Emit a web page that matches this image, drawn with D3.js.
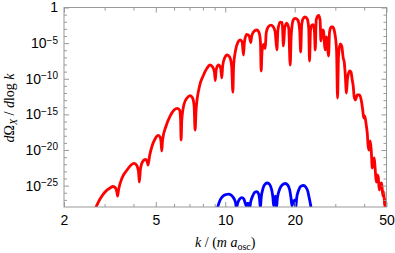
<!DOCTYPE html>
<html>
<head>
<meta charset="utf-8">
<script src="https://cdn.jsdelivr.net/npm/d3@7"></script>
<style>
  html, body { margin: 0; padding: 0; background: #fff; }
  svg { display: block; }
  .tick line { stroke: #999; }
</style>
</head>
<body>
<svg id="chart" width="395" height="253"></svg>
<script>
// red spectrum: k and log10 of dOmega/dlog k
const redK = [2.740, 2.866, 3.012, 3.167, 3.263, 3.346, 3.396, 3.413, 3.447, 3.570, 3.752, 3.905, 4.024, 4.126, 4.209, 4.243,
  4.294, 4.403, 4.505, 4.582, 4.628, 4.698, 4.817, 4.963, 5.115, 5.218, 5.270, 5.307, 5.350, 5.540, 5.766, 6.001, 6.184,
  6.341, 6.404, 6.436, 6.481, 6.632, 6.833, 7.041, 7.219, 7.328, 7.401, 7.475, 7.703, 8.017, 8.344, 8.598, 8.815, 8.975,
  9.057, 9.129, 9.342, 9.550, 9.665, 9.743, 9.939, 10.19, 10.45, 10.66, 10.79, 10.87, 11.09, 11.37, 11.60, 11.84, 11.99,
  12.11, 12.38, 12.70, 12.91, 13.02, 13.35, 13.71, 14.03, 14.21, 14.31, 14.43, 14.65, 14.82, 14.90, 15.05, 15.35, 15.74,
  16.13, 16.46, 16.74, 16.91, 17.30, 17.65, 17.88, 18.10, 18.46, 18.84, 19.12, 19.32, 19.71, 20.10, 20.61, 21.02, 21.23,
  21.44, 21.77, 22.21, 22.66, 23.00, 23.19, 23.42, 23.75, 24.06, 24.37, 24.55, 24.79, 25.17, 25.42, 25.76, 25.99, 26.33,
  26.67, 26.94, 27.13, 27.35, 27.54, 27.82, 28.04, 28.32, 28.80, 29.24, 29.83, 30.37, 30.67, 30.98, 31.51, 31.98, 32.46,
  32.79, 33.12, 33.52, 33.89, 34.64, 35.09, 35.52, 35.87, 36.23, 36.67, 37.33, 38.20, 38.85, 39.44, 39.84, 40.24, 40.85,
  41.26, 41.68, 42.09, 42.52, 42.94, 43.37, 43.81, 44.25, 44.69, 45.14, 45.60, 46.05, 46.51, 46.98, 47.69, 48.17, 48.65,
  49.14, 49.63, 50.0];
const redExp = [-28.14, -26.88, -25.89, -25.33, -25.12, -25.33, -26.03, -26.46, -25.61, -23.93, -22.81, -22.11, -21.89,
  -22.11, -23.09, -24.49, -22.53, -21.54, -21.33, -21.54, -22.11, -20.84, -19.44, -18.46, -17.96, -18.18, -18.88, -20.14,
  -18.60, -16.63, -15.23, -14.39, -14.15, -14.39, -15.79, -18.60, -15.79, -13.54, -12.70, -12.38, -12.70, -13.82, -17.19,
  -14.39, -11.30, -9.61, -8.49, -8.07, -8.35, -9.05, -10.25, -8.77, -8.07, -8.49, -9.89, -8.21, -7.09, -6.67, -6.95, -8.21,
  -11.86, -8.21, -5.96, -4.84, -4.56, -4.84, -6.67, -4.84, -3.79, -4.00, -4.91, -4.00, -3.30, -3.16, -3.58, -4.84, -8.91,
  -6.25, -5.19, -5.40, -5.75, -3.58, -2.74, -2.46, -2.67, -3.44, -5.96, -3.16, -2.04, -2.11, -5.40, -2.88, -2.18, -2.88,
  -8.07, -3.86, -1.75, -1.52, -1.75, -3.16, -6.25, -2.46, -1.54, -1.33, -1.61, -2.88, -7.51, -3.16, -2.46, -2.39, -3.44,
  -5.96, -1.75, -1.19, -1.12, -1.75, -4.70, -3.16, -3.23, -5.26, -5.96, -4.28, -4.14, -5.96, -6.81, -3.44, -2.74, -2.74,
  -3.58, -5.96, -12.70, -6.67, -5.12, -5.40, -7.09, -7.65, -9.33, -12.00, -9.89, -8.91, -9.05, -10.18, -11.02, -12.56,
  -12.98, -12.28, -12.28, -12.98, -14.39, -15.51, -15.23, -16.49, -17.61, -19.58, -20.00, -18.74, -20.00, -22.53, -21.68,
  -21.12, -22.81, -24.49, -23.51, -23.79, -25.61, -24.77, -24.63, -26.46, -25.89, -28.00, -27.02, -28.21];

// blue spectrum
const blueK = [9.249, 9.502, 9.791, 10.09, 10.32, 10.61, 10.87, 11.09, 11.18, 11.32, 11.54, 11.80, 12.05, 12.24, 12.35,
  12.47, 12.61, 12.76, 12.89, 13.15, 13.41, 13.71, 13.96, 14.10, 14.20, 14.31, 14.60, 14.90, 15.24, 15.58, 15.90, 16.10,
  16.21, 16.33, 16.51, 16.66, 16.83, 17.22, 17.65, 18.19, 18.65, 19.03, 19.28, 19.46, 19.61, 19.81, 20.00, 20.20, 20.40,
  20.82, 21.34, 21.84, 22.32, 22.77, 23.12, 23.40, 23.58];
const blueExp = [-28.14, -27.02, -26.46, -26.25, -26.18, -26.32, -26.74, -27.44, -28.14, -27.44, -26.88, -26.69, -26.88,
  -27.58, -27.86, -27.51, -27.51, -28.14, -27.30, -26.46, -25.96, -25.85, -26.18, -27.02, -28.14, -26.74, -25.33, -24.77,
  -24.63, -24.84, -25.61, -26.74, -27.86, -27.02, -26.46, -28.14, -26.74, -25.47, -24.91, -24.70, -24.91, -25.61, -26.74,
  -27.86, -27.16, -27.44, -27.02, -28.14, -26.74, -25.61, -25.05, -24.98, -25.19, -25.75, -26.74, -27.58, -28.26];

const xMajor = [2, 5, 10, 20, 50];
const xMinor = [3, 4, 6, 7, 8, 9, 30, 40];
const yMajorExp = [0, -5, -10, -15, -20, -25];
const yMinorExp = [-1, -2, -3, -4, -6, -7, -8, -9, -11, -12, -13, -14, -16, -17, -18, -19, -21, -22, -23, -24, -26, -27];

const pL = 64, pR = 386.5, pT = 7.5, pB = 207;
const svg = d3.select("#chart");

const x = d3.scaleLog().domain([2, 50]).range([pL, pR]);
const y = d3.scaleLog().domain([1e-28, 1]).range([pB, pT]);

const toPts = (ks, es) => ks.map((k, i) => [k, Math.pow(10, es[i])]);

svg.append("defs").append("clipPath").attr("id", "plotclip")
  .append("rect")
  .attr("x", pL).attr("y", pT)
  .attr("width", pR - pL).attr("height", pB - pT);

const line = d3.line()
  .x(d => x(d[0]))
  .y(d => y(d[1]))
  .curve(d3.curveMonotoneX);

const plot = svg.append("g").attr("clip-path", "url(#plotclip)");
plot.append("path")
  .datum(toPts(redK, redExp))
  .attr("fill", "none")
  .attr("stroke", "#ff0000")
  .attr("stroke-width", 2.8)
  .attr("stroke-linejoin", "round")
  .attr("d", line);
plot.append("path")
  .datum(toPts(blueK, blueExp))
  .attr("fill", "none")
  .attr("stroke", "#0000ff")
  .attr("stroke-width", 2.8)
  .attr("stroke-linejoin", "round")
  .attr("d", line);

// frame
svg.append("rect")
  .attr("x", pL).attr("y", pT)
  .attr("width", pR - pL).attr("height", pB - pT)
  .attr("fill", "none").attr("stroke", "#999").attr("stroke-width", 1);

const font = "'Liberation Sans', Arial, sans-serif";
const yMajor = yMajorExp.map(e => Math.pow(10, e));
const yMinor = yMinorExp.map(e => Math.pow(10, e));

function ticks(axis, vals, size, pos, labelled) {
  const g = svg.append("g").attr("transform", pos)
    .call(axis.tickValues(vals).tickSize(-size).tickPadding(6)
      .tickFormat(labelled ? (d => d) : () => ""));
  g.select(".domain").remove();
  g.selectAll("text").attr("font-family", font).attr("font-size", 14).attr("fill", "#000");
  return g;
}

// bottom
const bx = ticks(d3.axisBottom(x), xMajor, 5, `translate(0,${pB})`, true);
bx.selectAll("text").attr("dy", "0.85em");
ticks(d3.axisBottom(x), xMinor, 3, `translate(0,${pB})`, false);
// top
ticks(d3.axisTop(x), xMajor, 5, `translate(0,${pT})`, false);
ticks(d3.axisTop(x), xMinor, 3, `translate(0,${pT})`, false);
// left
const ly = ticks(d3.axisLeft(y), yMajor, 5, `translate(${pL},0)`, true);
ly.selectAll(".tick text").each(function (d) {
  const e = Math.round(Math.log10(d));
  const t = d3.select(this).text(null);
  if (e === 0) { t.text("1"); return; }
  t.append("tspan").text("10");
  t.append("tspan").attr("dy", "-0.45em").attr("font-size", 10).text("\u2212" + (-e));
});
ticks(d3.axisLeft(y), yMinor, 3, `translate(${pL},0)`, false);
// right
ticks(d3.axisRight(y), yMajor, 5, `translate(${pR},0)`, false);
ticks(d3.axisRight(y), yMinor, 3, `translate(${pR},0)`, false);

// axis labels
const serif = "'Liberation Serif', 'Times New Roman', serif";
const xl = svg.append("text")
  .attr("x", (pL + pR) / 2).attr("y", 247)
  .attr("text-anchor", "middle")
  .attr("font-family", serif).attr("font-size", 14);
xl.append("tspan").attr("font-style", "italic").text("k");
xl.append("tspan").text(" / (");
xl.append("tspan").attr("font-style", "italic").text("m a");
xl.append("tspan").attr("font-size", 10).attr("dy", 3).text("osc");
xl.append("tspan").attr("dy", -3).text(")");

const yl = svg.append("text")
  .attr("transform", "translate(13.5,108) rotate(-90)")
  .attr("text-anchor", "middle")
  .attr("font-family", serif).attr("font-size", 14);
yl.append("tspan").attr("font-style", "italic").text("d");
yl.append("tspan").text("\u03A9");
yl.append("tspan").attr("font-style", "italic").attr("font-size", 10).attr("dy", 3).text("X");
yl.append("tspan").attr("dy", -3).text(" / ");
yl.append("tspan").attr("font-style", "italic").text("d");
yl.append("tspan").text("log ");
yl.append("tspan").attr("font-style", "italic").text("k");
</script>
</body>
</html>
